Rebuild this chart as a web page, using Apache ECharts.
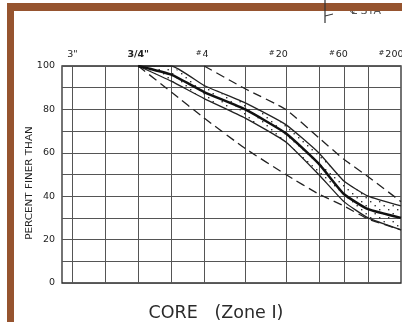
<!DOCTYPE html>
<html>
<head>
<meta charset="utf-8">
<script src="https://cdn.jsdelivr.net/npm/echarts@6/dist/echarts.min.js"></script>
<style>
  html, body { margin: 0; padding: 0; background: #fff; }
  #chart { width: 402px; height: 322px; }
</style>
</head>
<body>
<div id="chart"></div>
<script>
// Sieve openings (mm) at which the gradation curves are plotted
const sieveSizes = [19.05, 9.5, 4.75, 2.0, 0.85, 0.425, 0.25, 0.15, 0.075];
// Percent finer than, per curve (null = curve not drawn there)
const upperLimit = [null, null, 100, 89.5, 80, 67, 57, 49, 37.5];
const lowerLimit = [100, 88, 76, 62, 50, 41, 35.5, 29.5, 24.5];
const rangeUpper = [100, 100, 91, 83, 73, 60, 47, 40, 35.5];
const average    = [100, 96, 88, 80, 69, 55, 41, 34, 30];
const rangeLower = [100, 93, 85, 76, 65, 50, 37.5, 30, 24.5];

// Sieves that get a vertical rule, and the sieves named along the top
const gridSizes  = [76.2, 38.1, 19.05, 9.5, 4.75, 2.0, 0.85, 0.425, 0.25, 0.15];
const labelSizes = [76.2, 19.05, 4.75, 0.85, 0.25, 0.075];
const labelTexts = ['3"', '3/4"', '#4', '#20', '#60', '#200'];

const FONT = 'DejaVu Sans';
const INK = '#222';
const RULE = '#555';

// Stipple used to shade the band between the range limits
const stipple = (function () {
  const c = document.createElement('canvas');
  c.width = 9; c.height = 8;
  const g = c.getContext('2d');
  g.fillStyle = '#333';
  g.fillRect(1, 1, 1.4, 1.4);
  g.fillRect(5.5, 5, 1.4, 1.4);
  return { image: c, repeat: 'repeat' };
})();

function pairs(values) {
  return sieveSizes
    .map((s, i) => (values[i] == null ? null : [s, values[i]]))
    .filter(Boolean);
}

function curve(name, values, lineStyle, extra) {
  return Object.assign({
    type: 'line',
    name: name,
    data: pairs(values),
    symbol: 'none',
    smooth: 0.15,
    silent: true,
    z: 3,
    lineStyle: lineStyle
  }, extra || {});
}

// Right padding that sets each top label slightly left of its rule
const labelPad = [0, 0, 4, 15, 11, 20];
const rich = { h: { fontSize: 7, fontFamily: FONT, color: INK, verticalAlign: 'top', padding: [0, 1, 0, 0] } };
labelPad.forEach((p, i) => {
  rich['n' + i] = {
    fontSize: 9.5, fontFamily: FONT, color: INK, padding: [0, p, 0, 0],
    fontWeight: i === 1 ? 'bold' : 'normal'
  };
});

const chart = echarts.init(document.getElementById('chart'), null, { renderer: 'canvas' });

chart.setOption({
  animation: false,
  backgroundColor: '#fff',
  grid: {
    left: 62, right: 1, top: 66, bottom: 39,
    outerBoundsMode: 'none',
    containLabel: false,
    show: true, borderColor: '#2a2a2a', borderWidth: 1.3, backgroundColor: 'transparent'
  },
  xAxis: {
    type: 'log',
    logBase: 10,
    inverse: true,
    min: 0.075,
    max: 95,
    position: 'top',
    axisLine: { show: false },
    axisTick: { show: false },
    splitLine: { show: false },
    axisLabel: {
      customValues: labelSizes,
      margin: 6,
      formatter: function (value) {
        let k = 0;
        labelSizes.forEach((s, i) => {
          if (Math.abs(Math.log(s) - Math.log(value)) < Math.abs(Math.log(labelSizes[k]) - Math.log(value))) k = i;
        });
        const t = labelTexts[k];
        if (t.charAt(0) === '#') return '{h|#}{n' + k + '|' + t.slice(1) + '}';
        return '{n' + k + '|' + t + '}';
      },
      rich: rich
    }
  },
  yAxis: {
    type: 'value',
    min: 0,
    max: 100,
    interval: 10,
    axisLine: { show: false },
    axisTick: { show: false },
    splitLine: { show: true, lineStyle: { color: RULE, width: 1 } },
    axisLabel: {
      margin: 7,
      fontSize: 9.5,
      fontFamily: FONT,
      color: INK,
      formatter: v => (v % 20 === 0 ? String(v) : '')
    }
  },
  series: [
    {
      // stippled band between the range limits
      type: 'custom',
      silent: true,
      z: 1,
      data: sieveSizes.map((s, i) => [s, rangeLower[i], rangeUpper[i]]),
      encode: { x: 0, y: [1, 2] },
      renderItem: function (params, api) {
        if (params.dataIndex !== 0) return null;
        const top = sieveSizes.map((s, i) => api.coord([s, rangeUpper[i]]));
        const bottom = sieveSizes.map((s, i) => api.coord([s, rangeLower[i]])).reverse();
        return {
          type: 'polygon',
          shape: { points: top.concat(bottom), smooth: 0 },
          style: { fill: stipple, stroke: null }
        };
      }
    },
    curve('Lower limit', lowerLimit, { color: INK, width: 1.3, type: [9, 5] }, {
      markLine: {
        silent: true,
        z: 1,
        symbol: ['none', 'none'],
        label: { show: false },
        lineStyle: { color: RULE, width: 1, type: 'solid' },
        data: gridSizes.map(v => ({ xAxis: v }))
      }
    }),
    curve('Upper limit', upperLimit, { color: INK, width: 1.3, type: [9, 5] }),
    curve('Range upper', rangeUpper, { color: INK, width: 1.3 }),
    curve('Range lower', rangeLower, { color: INK, width: 1.3 }),
    curve('Average', average, { color: '#111', width: 2.5 })
  ],
  graphic: [
    {
      type: 'text', x: 30, y: 183, rotation: Math.PI / 2, scaleX: 1.22,
      style: { text: 'PERCENT FINER THAN', font: '8.5px "DejaVu Sans"', fill: INK, align: 'center', verticalAlign: 'middle' }
    },
    {
      type: 'text', x: 216, y: 313,
      style: { text: 'CORE   (Zone I)', font: '17.5px "DejaVu Sans"', fill: '#2a2a2a', align: 'center', verticalAlign: 'middle' }
    },
    {
      type: 'text', x: 350, y: 11,
      style: { text: '\u2104 STA', font: '11px "DejaVu Sans"', fill: '#555', align: 'left', verticalAlign: 'middle' }
    },
    { type: 'rect', shape: { x: 7, y: 3, width: 395, height: 8 }, style: { fill: '#96542f' }, z: 10 },
    { type: 'rect', shape: { x: 7, y: 3, width: 7, height: 319 }, style: { fill: '#96542f' }, z: 10 },
    { type: 'line', shape: { x1: 325, y1: 0, x2: 325, y2: 23 }, style: { stroke: '#333', lineWidth: 1.2 }, z: 11 },
    { type: 'line', shape: { x1: 325, y1: 16, x2: 333, y2: 14 }, style: { stroke: '#333', lineWidth: 1 }, z: 11 }
  ]
});
</script>
</body>
</html>
